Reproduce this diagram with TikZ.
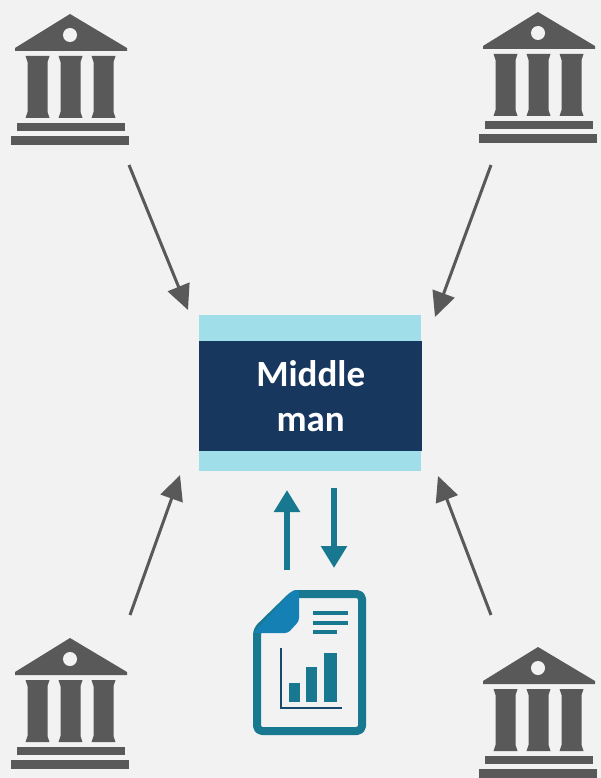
\documentclass[tikz,border=0pt]{standalone}
\usepackage{fontspec}
\setmainfont{Carlito}
\usetikzlibrary{arrows.meta}
\definecolor{bggrey}{HTML}{F2F2F2}
\definecolor{bankgrey}{HTML}{595959}
\definecolor{lightcyan}{HTML}{A0DFE9}
\definecolor{navy}{HTML}{17375E}
\definecolor{tealx}{HTML}{17788F}
\definecolor{foldblue}{HTML}{1480B4}
\tikzset{
  x=1pt,y=-1pt,
  flowgrey/.style={draw=bankgrey,line width=3pt,-{Triangle[length=25pt,width=23pt]}},
  flowteal/.style={draw=tealx,line width=5.6pt,-{Triangle[length=22pt,width=25pt]}},
  bank/.pic={
    \fill[bankgrey] (70,14) -- (127,48) -- (127,51) -- (15,51) -- (15,48) -- cycle;
    \fill[bggrey] (70,35) circle (7);
    \foreach \cx in {37.5,70.5,103.5}{
      \fill[bankgrey] (\cx-12,56) -- (\cx+12,56) -- (\cx+10,62) -- (\cx+10,112) -- (\cx+12,118) -- (\cx-12,118) -- (\cx-10,112) -- (\cx-10,62) -- cycle;
    }
    \fill[bankgrey] (17,123) rectangle (125,131);
    \fill[bankgrey] (11,136) rectangle (129,145);
  },
}
\begin{document}
\begin{tikzpicture}
\useasboundingbox (0,0) rectangle (601,778);
\fill[bggrey] (0,0) rectangle (601,778);
% buildings
\pic at (0,0) {bank};
\pic at (468,-2) {bank};
\pic at (0,624) {bank};
\pic at (468,633) {bank};
% connector ends
\coordinate (bankTL) at (129,165);
\coordinate (bankTR) at (491,165);
\coordinate (bankBL) at (130,615);
\coordinate (bankBR) at (491,615);
\coordinate (mTL) at (188,310);
\coordinate (mTR) at (435,317);
\coordinate (mBL) at (180,475);
\coordinate (mBR) at (438,476);
\coordinate (upS) at (287,570);
\coordinate (upE) at (287,490);
\coordinate (dnS) at (334,488);
\coordinate (dnE) at (334,568);
% central box
\node[fill=lightcyan,minimum width=222pt,minimum height=156pt,inner sep=0pt,anchor=north west] (outerbox) at (199,315) {};
\node[fill=navy,text=white,minimum width=223pt,minimum height=110pt,inner sep=0pt,anchor=north west,align=center,font=\fontsize{37}{45}\selectfont\bfseries] (middle) at (199,341) {Middle\\man};
% arrows
\draw[flowgrey] (bankTL) -- (mTL);
\draw[flowgrey] (bankTR) -- (mTR);
\draw[flowgrey] (bankBL) -- (mBL);
\draw[flowgrey] (bankBR) -- (mBR);
\draw[flowteal] (upS) -- (upE);
\draw[flowteal] (dnS) -- (dnE);
% document icon
\draw[tealx,line width=8pt,line join=round,rounded corners=5pt] (257,630) -- (294,594) -- (362,594) -- (362,731) -- (257,731) -- cycle;
\fill[foldblue,rounded corners=3pt] (253,633) -- (293,590) -- (299,590) -- (299,621) -- (288,633) -- cycle;
\foreach \ly/\lx in {613/348,623/348,632/337}{
  \draw[tealx,line width=4pt] (313,\ly) -- (\lx,\ly);
}
\draw[navy!70!tealx,line width=2.8pt] (281,648) -- (281,708) -- (342,708);
\fill[tealx] (289,683) rectangle (300,702);
\fill[tealx] (306,667) rectangle (317,702);
\fill[tealx] (324,653) rectangle (337,702);
\end{tikzpicture}
\end{document}
